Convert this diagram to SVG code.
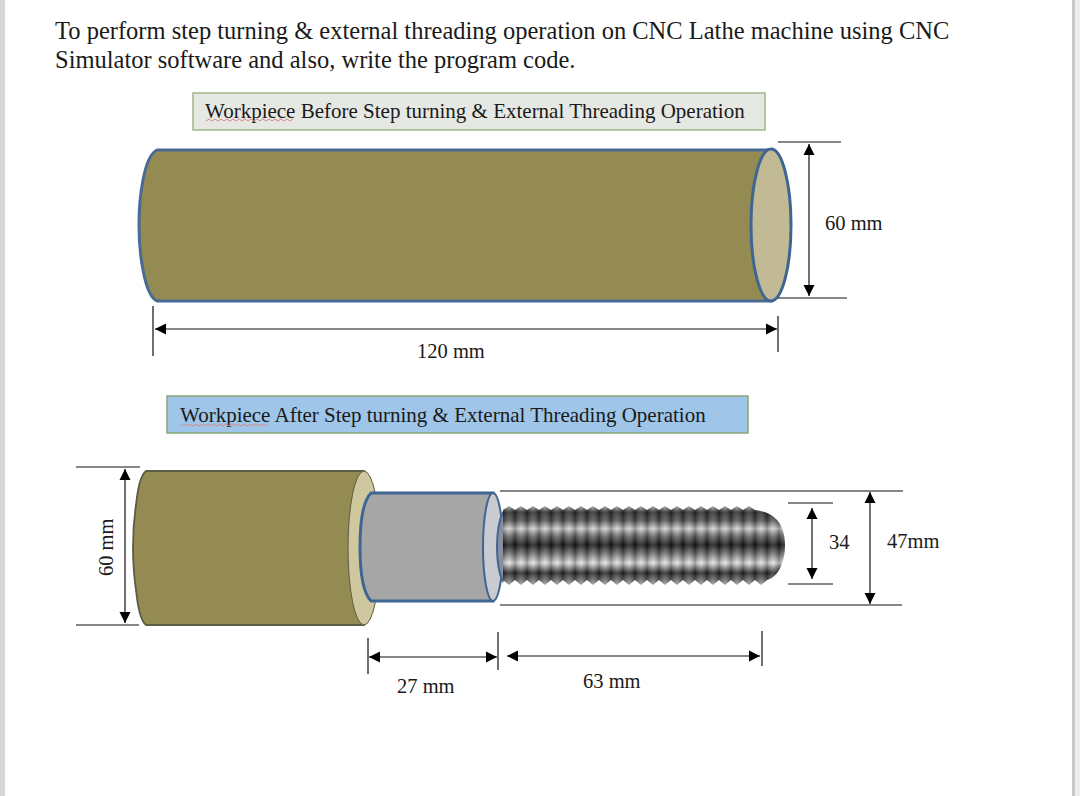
<svg xmlns="http://www.w3.org/2000/svg" width="1080" height="796" viewBox="0 0 1080 796">
<style>
text{font-family:"Liberation Serif","Times New Roman",serif;fill:#1a1a1a}
.t{font-size:24.5px}
.c{font-size:21px}
.d{font-size:20.5px}
.dim{stroke:#111;stroke-width:1.2;fill:none}
.arr{marker-start:url(#a);marker-end:url(#a)}
.sq{fill:none;stroke:#d98a8a;stroke-width:1}
</style>
<defs>
<marker id="a" markerUnits="userSpaceOnUse" markerWidth="12" markerHeight="12" refX="11" refY="6" orient="auto-start-reverse"><path d="M0 .5L11 6L0 11.500Z" fill="#000"/></marker>
<linearGradient id="tg" x1="0" y1="0" x2="0" y2="1">
<stop offset="0" stop-color="#d0d0d0"/><stop offset=".1" stop-color="#2a2a2a"/><stop offset=".2" stop-color="#505050"/><stop offset=".3" stop-color="#d2d2d2"/><stop offset=".39" stop-color="#666"/><stop offset=".5" stop-color="#141414"/><stop offset=".6" stop-color="#6a6a6a"/><stop offset=".72" stop-color="#e4e4e4"/><stop offset=".84" stop-color="#222"/><stop offset="1" stop-color="#a8a8a8"/>
</linearGradient>
<linearGradient id="st"><stop offset="0" stop-color="#000" stop-opacity=".28"/><stop offset=".5" stop-color="#fff" stop-opacity=".16"/><stop offset="1" stop-color="#000" stop-opacity=".28"/></linearGradient>
<pattern id="ps" width="12" height="90" patternUnits="userSpaceOnUse" patternTransform="translate(503 0)"><rect width="12" height="90" fill="url(#st)"/></pattern>
<clipPath id="thr"><path d="M503 510l6 -4 6 4 6-4 6 4 6-4 6 4 6-4 6 4 6-4 6 4 6-4 6 4 6-4 6 4 6-4 6 4 6-4 6 4 6-4 6 4 6-4 6 4 6-4 6 4 6-4 6 4 6-4 6 4 6-4 6 4 6-4 6 4 6-4 6 4 6-4 6 4 6-4 6 4 6-4 6 4 6-4 6 4 C779 513 785 529 785 545C785 561 779 577 767 580l-6 5-6-5-6 5-6-5-6 5-6-5-6 5-6-5-6 5-6-5-6 5-6-5-6 5-6-5-6 5-6-5-6 5-6-5-6 5-6-5-6 5-6-5-6 5-6-5-6 5-6-5-6 5-6-5-6 5-6-5-6 5-6-5-6 5-6-5-6 5-6-5-6 5-6-5-6 5-6-5-6 5-6-5-6 5-6-5-6 5-6-5-6 5-6-5Z"/></clipPath>
</defs>
<rect width="1080" height="796" fill="#fff"/>
<rect x="0" y="0" width="5" height="796" fill="#d6d6d6"/>
<rect x="1072" y="0" width="8" height="796" fill="#ececec"/>
<rect x="1072" y="0" width="3" height="796" fill="#c9c9c9"/>

<g id="title">
<text class="t" x="55" y="39">To perform step turning &amp; external threading operation on CNC Lathe machine using CNC</text>
<text class="t" x="55" y="68">Simulator software and also, write the program code.</text>
</g>

<g id="caption-before">
<rect x="193" y="93" width="572" height="37" fill="#e6e8e4" stroke="#a3b48e" stroke-width="1.500"/>
<text class="c" x="205" y="118">Workpiece Before Step turning &amp; External Threading Operation</text>
<path class="sq" d="M206 121l3 -2 3 2 3-2 3 2 3-2 3 2 3-2 3 2 3-2 3 2 3-2 3 2 3-2 3 2 3-2 3 2 3-2 3 2 3-2 3 2 3-2 3 2 3-2 3 2 3-2 3 2 3-2 3 2 3-2"/>
</g>

<g id="workpiece-before">
<path d="M157 150H771V301H157Q148 297 143 270Q139 250 139 225Q139 200 143 180Q148 154 157 150Z" fill="#948b52" stroke="#4a6a96" stroke-width="3"/>
<ellipse cx="771" cy="225" rx="20" ry="76" fill="#c2ba94" stroke="#3f6593" stroke-width="3"/>
</g>

<g id="caption-after">
<rect x="167" y="396" width="581" height="37" fill="#9fc5e8" stroke="#8aa77a" stroke-width="1.500"/>
<text class="c" x="180" y="422">Workpiece After Step turning &amp; External Threading Operation</text>
<path class="sq" d="M181 426l3 -2 3 2 3-2 3 2 3-2 3 2 3-2 3 2 3-2 3 2 3-2 3 2 3-2 3 2 3-2 3 2 3-2 3 2 3-2 3 2 3-2 3 2 3-2 3 2 3-2 3 2 3-2 3 2 3-2"/>
</g>

<g id="workpiece-after">
<path d="M146 471H364V625H146Q139 620 136 590Q133 570 133 547Q133 525 136 505Q139 476 146 471Z" fill="#948b52" stroke="#5d5a45" stroke-width="1.800"/>
<ellipse cx="364" cy="548" rx="16" ry="77" fill="#cfc89e" stroke="#5d5a45" stroke-width="1"/>
<path d="M371 493H493V601H371Q360 590 360 547Q360 504 371 493Z" fill="#a6a6a6" stroke="#3f6593" stroke-width="3"/>
<ellipse cx="493" cy="547" rx="10" ry="54" fill="#c9cbd0" stroke="#3f6593" stroke-width="2"/>
<path d="M503 512Q497 525 497 547Q497 569 503 582" fill="#8a8fa0" stroke="#3f6593" stroke-width="2"/>
<g id="thread" clip-path="url(#thr)">
<rect x="503" y="504" width="285" height="82" fill="url(#tg)"/>
<rect x="503" y="504" width="285" height="82" fill="url(#ps)"/>
</g>
</g>

<g id="connectors">
<path class="dim" d="M778 142H841M778 298H847"/>
<path class="dim arr" d="M809 144V296"/>
<path class="dim" d="M153 306V356M778 316V352"/>
<path class="dim arr" d="M155 329H777"/>
<path class="dim" d="M76 467H140M76 625H139"/>
<path class="dim arr" d="M125 469V623"/>
<path class="dim" d="M368 638V674M498 632V670M762 631V666"/>
<path class="dim arr" d="M369 657H497"/>
<path class="dim arr" d="M507 656H760"/>
<path class="dim" d="M500 491H903M500 605H902"/>
<path class="dim arr" d="M870 492V604"/>
<path class="dim" d="M788 503H833M788 584H833"/>
<path class="dim arr" d="M812 508V579"/>
</g>

<g id="labels">
<text class="d" x="825" y="230">60 mm</text>
<text class="d" x="417" y="358">120 mm</text>
<text class="d" transform="translate(113 576) rotate(-90)">60 mm</text>
<text class="d" x="397" y="693">27 mm</text>
<text class="d" x="583" y="688">63 mm</text>
<text class="d" x="829" y="549">34</text>
<text class="d" x="887" y="548">47mm</text>
</g>
</svg>
